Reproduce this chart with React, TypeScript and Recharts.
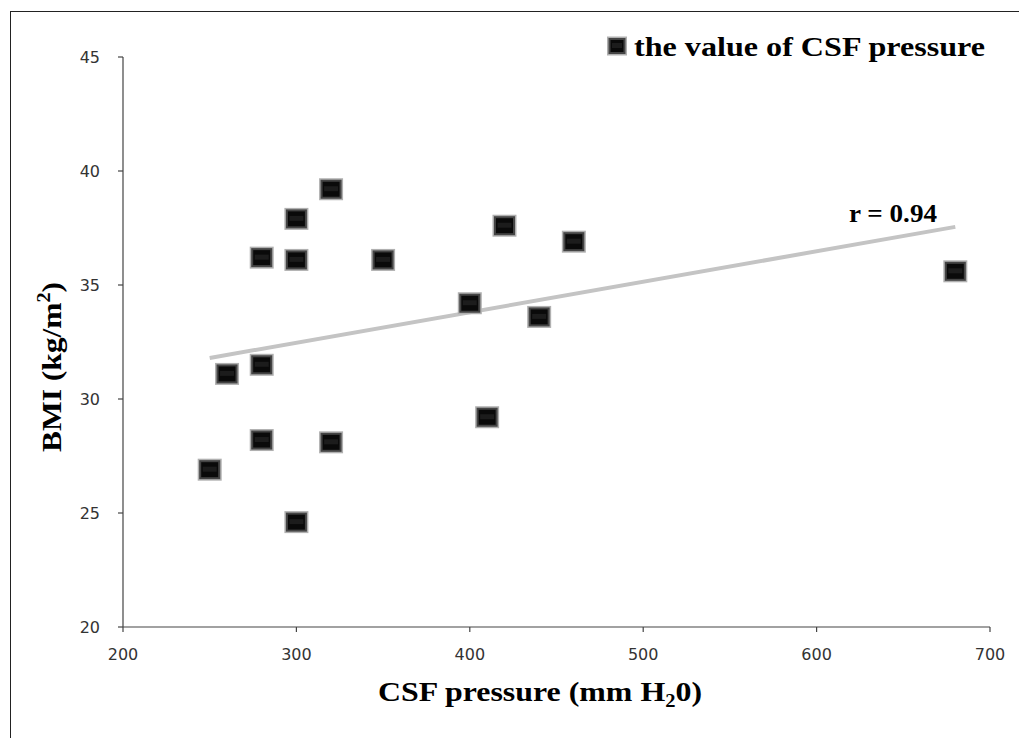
import React from 'react';
import { ScatterChart, Scatter, XAxis, YAxis, ReferenceLine, Label } from 'recharts';

const csfPressure = [250, 260, 280, 280, 280, 300, 300, 300, 320, 320, 350, 400, 410, 420, 440, 460, 680];
const bmiValues = [26.9, 31.1, 36.2, 31.5, 28.2, 37.9, 36.1, 24.6, 39.2, 28.1, 36.1, 34.2, 29.2, 37.6, 33.6, 36.9, 35.6];
const trendX = [250, 680];
const trendY = [31.8, 37.55];
const xTicks = [200, 300, 400, 500, 600, 700];
const yTicks = [20, 25, 30, 35, 40, 45];
const seriesName = 'the value of CSF pressure';
const rLabel = 'r = 0.94';

const points = csfPressure.map((x, i) => ({ x, y: bmiValues[i] }));

const SERIF = '"Liberation Serif", "Times New Roman", serif';
const SANS = '"DejaVu Sans", Verdana, sans-serif';

function Marker({ cx, cy, w = 24, h = 22 }: any) {
  if (cx == null || cy == null) return <g />;
  const x = cx - w / 2;
  const y = cy - h / 2;
  return (
    <g>
      <rect x={x} y={y} width={w} height={h} fill="#b0b0b0" />
      <rect x={x + 1.5} y={y + 1.5} width={w - 3} height={h - 3} fill="#444" />
      <rect x={x + 3.5} y={y + 3.5} width={w - 7} height={h - 7} fill="#0a0a0a" />
      <rect x={x + 5} y={y + h / 2 - 3} width={w - 10} height={5} fill="#1c1c1c" />
    </g>
  );
}

function XLabel(props: any) {
  return (
    <text x={378} y={701} fontFamily={SERIF} fontWeight="bold" fontSize={28} fill="#000" textLength={324} lengthAdjust="spacingAndGlyphs">
      CSF pressure (mm H<tspan fontSize={18} dy={6}>2</tspan><tspan dy={-6}>0)</tspan>
    </text>
  );
}

function YLabel(props: any) {
  return (
    <text transform="translate(61,452) rotate(-90)" x={0} y={0} fontFamily={SERIF} fontWeight="bold" fontSize={28} fill="#000" textLength={170} lengthAdjust="spacingAndGlyphs">
      BMI  (kg/m<tspan fontSize={18} dy={-11}>2</tspan><tspan dy={11}>)</tspan>
    </text>
  );
}

function RLabel(props: any) {
  return (
    <text x={849} y={222} fontFamily={SERIF} fontWeight="bold" fontSize={25} fill="#000" textLength={88} lengthAdjust="spacingAndGlyphs">
      {rLabel}
    </text>
  );
}

export default function App() {
  return (
    <div style={{ position: 'absolute', left: 0, top: 0, width: 1019, height: 738, background: '#fff', overflow: 'hidden' }}>
      <div style={{ position: 'absolute', left: 10, top: 11, right: -5, bottom: -5, borderTop: '1px solid #222', borderLeft: '1px solid #222' }} />
      <div style={{ position: 'absolute', left: 0, top: 0 }}>
        <ScatterChart width={1019} height={738} margin={{ top: 57, right: 29, bottom: 51, left: 0 }}>
          <XAxis
            type="number"
            dataKey="x"
            domain={[200, 700]}
            ticks={xTicks}
            height={60}
            tickSize={5}
            tickMargin={17}
            axisLine={{ stroke: '#444', strokeWidth: 1.2 }}
            tickLine={{ stroke: '#444', strokeWidth: 1.2 }}
            tick={{ fontFamily: SANS, fontSize: 16, fill: '#333' }}
            allowDataOverflow
          >
            <Label content={<XLabel />} />
          </XAxis>
          <YAxis
            type="number"
            dataKey="y"
            domain={[20, 45]}
            ticks={yTicks}
            width={123}
            tickSize={5}
            tickMargin={18}
            axisLine={{ stroke: '#444', strokeWidth: 1.2 }}
            tickLine={{ stroke: '#444', strokeWidth: 1.2 }}
            tick={{ fontFamily: SANS, fontSize: 16, fill: '#333' }}
            allowDataOverflow
          >
            <Label content={<YLabel />} />
          </YAxis>
          <ReferenceLine
            segment={[{ x: trendX[0], y: trendY[0] }, { x: trendX[1], y: trendY[1] }]}
            stroke="#c4c4c4"
            strokeWidth={4}
            ifOverflow="visible"
          >
            <Label content={<RLabel />} />
          </ReferenceLine>
          <Scatter name={seriesName} data={points} shape={<Marker />} isAnimationActive={false} />
        </ScatterChart>
      </div>
      <svg style={{ position: 'absolute', left: 0, top: 0 }} width={1019} height={80}>
        <Marker cx={617} cy={46} w={20} h={19} />
        <text x={634} y={56} fontFamily={SERIF} fontWeight="bold" fontSize={27} fill="#000" textLength={351} lengthAdjust="spacingAndGlyphs">
          {seriesName}
        </text>
      </svg>
    </div>
  );
}
